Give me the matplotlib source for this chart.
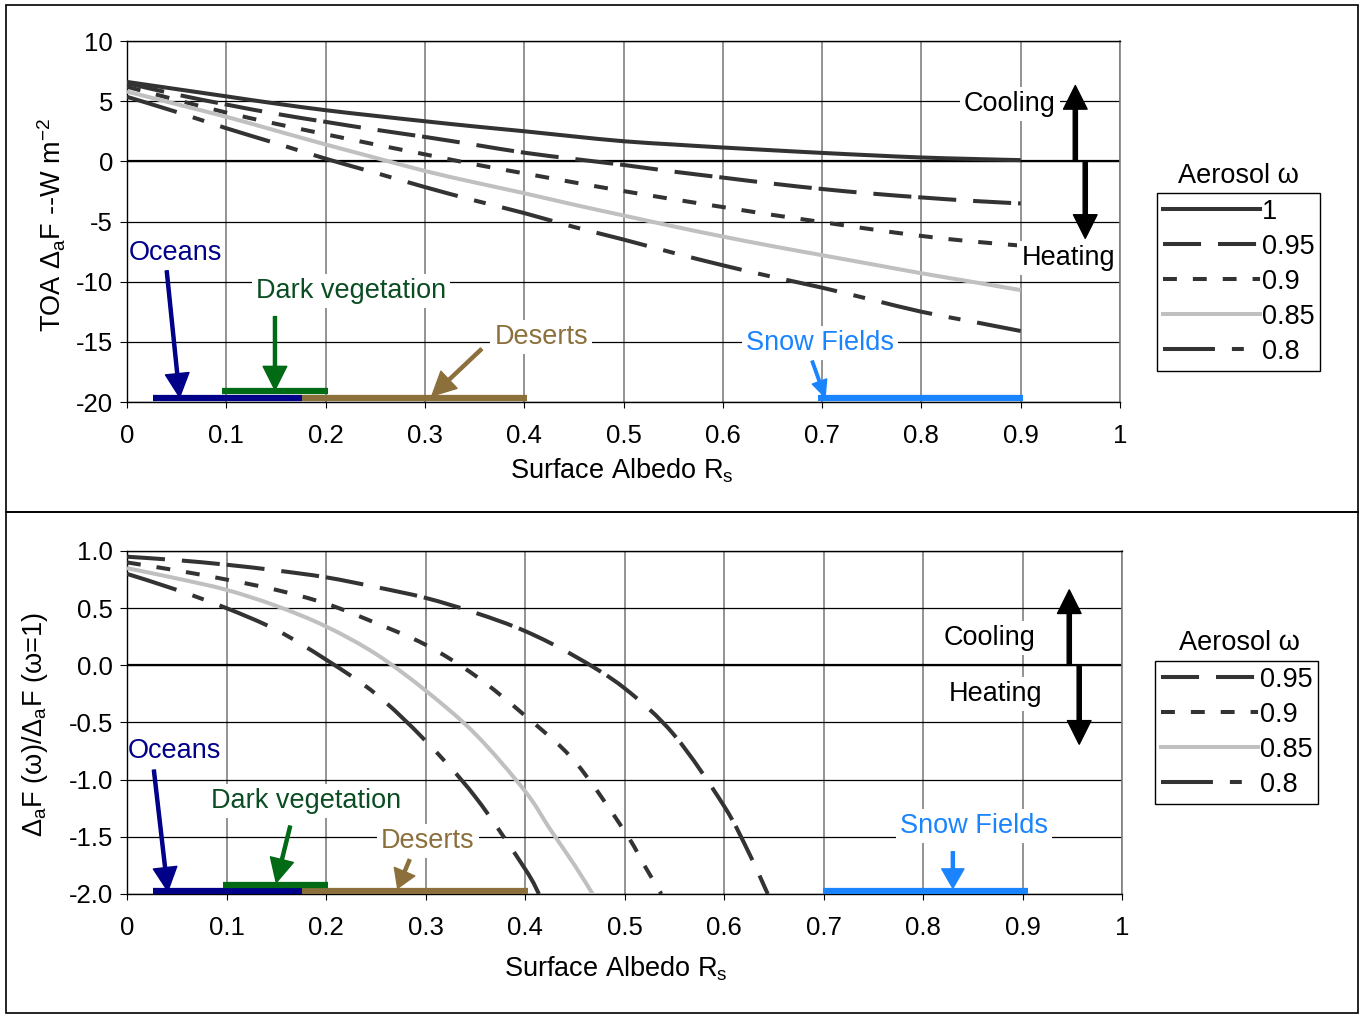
import numpy as np
import matplotlib
matplotlib.use("Agg")
import matplotlib.pyplot as plt
from matplotlib.patches import Rectangle, PathPatch
from matplotlib.path import Path
from matplotlib.lines import Line2D

# ----------------------------
# Data
# ----------------------------

albedo = [0.0, 0.05, 0.1, 0.15, 0.2, 0.25, 0.3, 0.35, 0.4, 0.45,
          0.5, 0.55, 0.6, 0.65, 0.7, 0.75, 0.8, 0.85, 0.9]

toa_w100 = [6.6, 6.0, 5.4, 4.8, 4.25, 3.78, 3.33, 2.9, 2.5, 2.07,
            1.67, 1.4, 1.15, 0.92, 0.7, 0.5, 0.32, 0.2, 0.1]
toa_w095 = [6.5, 5.55, 4.72, 3.95, 3.28, 2.63, 2.03, 1.38, 0.72, 0.2,
            -0.3, -0.85, -1.35, -1.85, -2.3, -2.68, -3.0, -3.28, -3.5]
toa_w090 = [6.2, 5.1, 4.05, 3.12, 2.25, 1.4, 0.58, -0.25, -1.0, -1.75,
            -2.47, -3.15, -3.8, -4.45, -5.05, -5.65, -6.2, -6.65, -7.0]
toa_w085 = [5.8, 4.75, 3.7, 2.55, 1.4, 0.3, -0.8, -1.75, -2.65, -3.6,
            -4.5, -5.4, -6.25, -7.05, -7.8, -8.55, -9.3, -10.0, -10.7]
toa_w080 = [5.36, 4.1, 2.75, 1.5, 0.22, -0.95, -2.14, -3.25, -4.3, -5.45,
            -6.5, -7.6, -8.64, -9.6, -10.5, -11.5, -12.5, -13.3, -14.1]

ratio_x_w095 = [0.0, 0.05, 0.1, 0.15, 0.2, 0.25, 0.3, 0.35, 0.4, 0.45,
                0.5, 0.55, 0.6, 0.625, 0.644]
ratio_w095 = [0.95, 0.92, 0.88, 0.83, 0.77, 0.685, 0.59, 0.46, 0.3, 0.08,
              -0.2, -0.61, -1.23, -1.64, -2.0]
ratio_x_w090 = [0.0, 0.05, 0.1, 0.15, 0.2, 0.25, 0.3, 0.35, 0.4, 0.45,
                0.5, 0.52, 0.537]
ratio_w090 = [0.9, 0.83, 0.75, 0.66, 0.54, 0.37, 0.18, -0.09, -0.44, -0.84,
              -1.45, -1.75, -2.0]
ratio_x_w085 = [0.0, 0.05, 0.1, 0.15, 0.2, 0.25, 0.3, 0.35, 0.4, 0.425,
                0.45, 0.468]
ratio_w085 = [0.85, 0.76, 0.66, 0.52, 0.34, 0.1, -0.22, -0.6, -1.1, -1.43,
              -1.75, -2.0]
ratio_x_w080 = [0.0, 0.05, 0.1, 0.15, 0.2, 0.25, 0.3, 0.35, 0.4, 0.414]
ratio_w080 = [0.8, 0.66, 0.5, 0.31, 0.05, -0.25, -0.66, -1.15, -1.78, -2.0]

# surface type albedo ranges
oceans_range = [0.026, 0.176]
vegetation_range = [0.096, 0.202]
deserts_range = [0.176, 0.403]
snow_range = [0.696, 0.902]

xtick_vals = [0, 0.1, 0.2, 0.3, 0.4, 0.5, 0.6, 0.7, 0.8, 0.9, 1.0]
xtick_text = ["0", "0.1", "0.2", "0.3", "0.4", "0.5", "0.6", "0.7", "0.8", "0.9", "1"]

# ----------------------------
# Style
# ----------------------------

plt.rcParams["font.family"] = ["Liberation Sans", "DejaVu Sans"]
plt.rcParams["mathtext.fontset"] = "custom"
plt.rcParams["mathtext.rm"] = "Liberation Sans"
plt.rcParams["mathtext.it"] = "Liberation Sans:italic"
plt.rcParams["lines.scale_dashes"] = False

DARK = "#333333"
GRAY = "#c0c0c0"
NAVY = "#000088"
GREEN = "#006a14"
GREEN_TXT = "#0b4d22"
BROWN = "#8c703c"
BLUE = "#1a84ff"

styles = {
    "1": dict(color=DARK, ls="-"),
    "0.95": dict(color=DARK, ls=(0, (27.4, 12.2, 27.4, 5.0))),
    "0.9": dict(color=DARK, ls=(0, (10.0, 11.5))),
    "0.85": dict(color=GRAY, ls="-"),
    "0.8": dict(color=DARK, ls=(0, (37.4, 12.2, 8.6, 12.2))),
}

LW = 2.9
FS = 19.5
TICK_FS = 18.5

fig = plt.figure(figsize=(13.6, 10.14), dpi=100)

ax1 = fig.add_axes([127 / 1360, 1 - 402 / 1014, 993 / 1360, 361 / 1014])
ax2 = fig.add_axes([127 / 1360, 1 - 894 / 1014, 995 / 1360, 343 / 1014])


def setup_axes(ax, ylim, yticks, ylabels):
    ax.set_xlim(0, 1)
    ax.set_ylim(*ylim)
    ax.set_xticks(xtick_vals)
    ax.set_xticklabels(xtick_text, fontsize=TICK_FS)
    ax.set_yticks(yticks)
    ax.set_yticklabels(ylabels, fontsize=TICK_FS)
    ax.set_axisbelow(True)
    ax.grid(axis="x", color="#808080", lw=1.2)
    ax.grid(axis="y", color="black", lw=0.9)
    ax.axhline(0, color="black", lw=1.6, zorder=1.5)
    ax.tick_params(axis="x", direction="out", length=4, pad=12)
    ax.tick_params(axis="y", direction="out", length=5, pad=5)
    for s in ["left", "bottom", "top"]:
        ax.spines[s].set_color("black")
        ax.spines[s].set_linewidth(1.0)
    ax.spines["right"].set_color("#808080")
    ax.spines["right"].set_linewidth(1.2)


def smooth_curve(ax, xs, ys, name):
    # Excel-style smoothed line: Catmull-Rom segments as cubic Beziers
    p = np.column_stack([xs, ys])
    pad = np.vstack([p[0], p, p[-1]])
    verts = [p[0]]
    codes = [Path.MOVETO]
    for i in range(len(p) - 1):
        p0, p1, p2, p3 = pad[i], pad[i + 1], pad[i + 2], pad[i + 3]
        verts += [p1 + (p2 - p0) / 6, p2 - (p3 - p1) / 6, p2]
        codes += [Path.CURVE4] * 3
    st = styles[name]
    patch = PathPatch(Path(verts, codes), fill=False, edgecolor=st["color"],
                      linestyle=st["ls"], lw=LW, zorder=3, capstyle="butt")
    ax.add_patch(patch)


def legend_handle(name):
    st = styles[name]
    return Line2D([], [], color=st["color"], ls=st["ls"], lw=LW, label=name)


def bar(ax, rng, y, color):
    ax.plot(rng, [y, y], color=color, lw=4.5, solid_capstyle="butt", zorder=4)


def arrow(ax, tail, tip, color, hw=17, hl=17, w=2.2):
    ax.annotate("", xy=tip, xytext=tail,
                arrowprops=dict(facecolor=color, edgecolor=color, width=w,
                                headwidth=hw, headlength=hl, shrink=0),
                zorder=5)


def label(ax, x, y, s, color, box=True):
    kw = dict(fontsize=FS, color=color, ha="center", va="center", zorder=6)
    if box:
        kw["bbox"] = dict(facecolor="white", edgecolor="none", pad=3)
    ax.text(x, y, s, **kw)


def legend_box(handles, x, y):
    leg = fig.legend(handles=handles, loc="upper left",
                     bbox_to_anchor=(x / 1360, 1 - y / 1014),
                     fontsize=FS, handlelength=3.6, handletextpad=0.05,
                     labelspacing=0.33, borderpad=0.22, borderaxespad=0,
                     fancybox=False, edgecolor="black", framealpha=1)
    leg.get_frame().set_linewidth(1.0)
    return leg


# ----------------------------
# Top panel: TOA forcing
# ----------------------------

setup_axes(ax1, (-20, 10), [10, 5, 0, -5, -10, -15, -20],
           ["10", "5", "0", "-5", "-10", "-15", "-20"])

top_series = [("1", toa_w100), ("0.95", toa_w095), ("0.9", toa_w090),
              ("0.85", toa_w085), ("0.8", toa_w080)]
for name, vals in top_series:
    smooth_curve(ax1, albedo, vals, name)

bar(ax1, deserts_range, -19.67, BROWN)
bar(ax1, oceans_range, -19.67, NAVY)
bar(ax1, vegetation_range, -19.1, GREEN)
bar(ax1, snow_range, -19.67, BLUE)

label(ax1, 0.049, -7.6, "Oceans", NAVY, box=False)
arrow(ax1, (0.040, -9.1), (0.053, -19.6), NAVY)
label(ax1, 0.2256, -10.8, "Dark vegetation", GREEN_TXT)
arrow(ax1, (0.149, -12.9), (0.149, -19.0), GREEN)
label(ax1, 0.417, -14.6, "Deserts", BROWN)
arrow(ax1, (0.357, -15.6), (0.307, -19.5), BROWN)
label(ax1, 0.698, -15.1, "Snow Fields", BLUE)
arrow(ax1, (0.690, -16.6), (0.703, -19.6), BLUE, hw=11, hl=12, w=1.8)
label(ax1, 0.889, 4.75, "Cooling", "black")
arrow(ax1, (0.955, 0), (0.955, 6.3), "black", w=3)
label(ax1, 0.948, -8.0, "Heating", "black")
arrow(ax1, (0.965, 0), (0.965, -6.4), "black", w=3)

legend_box([legend_handle(n) for n, _ in top_series], 1157, 193)
fig.text(1238 / 1360, 1 - 176 / 1014, "Aerosol ω", fontsize=FS,
         ha="center", va="center")

fig.text(52 / 1360, 1 - 225 / 1014, r"TOA Δ$_{\rm a}$F --W m$^{-2}$",
         fontsize=FS, rotation=90, ha="center", va="center")
fig.text(622 / 1360, 1 - 471 / 1014, r"Surface Albedo R$_{\rm s}$",
         fontsize=FS, ha="center", va="center")

# ----------------------------
# Bottom panel: forcing ratio
# ----------------------------

setup_axes(ax2, (-2, 1), [1.0, 0.5, 0.0, -0.5, -1.0, -1.5, -2.0],
           ["1.0", "0.5", "0.0", "-0.5", "-1.0", "-1.5", "-2.0"])

bottom_series = [("0.95", ratio_x_w095, ratio_w095),
                 ("0.9", ratio_x_w090, ratio_w090),
                 ("0.85", ratio_x_w085, ratio_w085),
                 ("0.8", ratio_x_w080, ratio_w080)]
for name, xs, vals in bottom_series:
    smooth_curve(ax2, xs, vals, name)

bar(ax2, deserts_range, -1.975, BROWN)
bar(ax2, oceans_range, -1.975, NAVY)
bar(ax2, vegetation_range, -1.92, GREEN)
bar(ax2, [0.699, 0.906], -1.975, BLUE)

label(ax2, 0.048, -0.75, "Oceans", NAVY, box=False)
arrow(ax2, (0.027, -0.916), (0.041, -1.975), NAVY)
label(ax2, 0.18, -1.19, "Dark vegetation", GREEN_TXT)
arrow(ax2, (0.164, -1.406), (0.150, -1.90), GREEN)
label(ax2, 0.3025, -1.537, "Deserts", BROWN)
arrow(ax2, (0.284, -1.70), (0.272, -1.95), BROWN, hw=16, hl=13)
label(ax2, 0.851, -1.406, "Snow Fields", BLUE)
arrow(ax2, (0.830, -1.63), (0.830, -1.95), BLUE, hw=16, hl=14)
label(ax2, 0.867, 0.24, "Cooling", "black")
arrow(ax2, (0.947, 0), (0.947, 0.66), "black", w=3)
label(ax2, 0.873, -0.25, "Heating", "black")
arrow(ax2, (0.957, 0), (0.957, -0.69), "black", w=3)

legend_box([legend_handle(n) for n, _, _ in bottom_series], 1155, 661)
fig.text(1239 / 1360, 1 - 643 / 1014, "Aerosol ω", fontsize=FS,
         ha="center", va="center")

fig.text(35 / 1360, 1 - 725 / 1014, r"Δ$_{\rm a}$F (ω)/Δ$_{\rm a}$F (ω=1)",
         fontsize=FS, rotation=90, ha="center", va="center")
fig.text(616 / 1360, 1 - 969 / 1014, r"Surface Albedo R$_{\rm s}$",
         fontsize=FS, ha="center", va="center")

# panel frames
fig.add_artist(Rectangle((6 / 1360, 1 - 512 / 1014), 1352 / 1360, 507 / 1014,
                         fill=False, ec="black", lw=1.2, transform=fig.transFigure))
fig.add_artist(Rectangle((6 / 1360, 1 - 1013 / 1014), 1352 / 1360, 501 / 1014,
                         fill=False, ec="black", lw=1.2, transform=fig.transFigure))

fig.savefig("out.png", dpi=100)
